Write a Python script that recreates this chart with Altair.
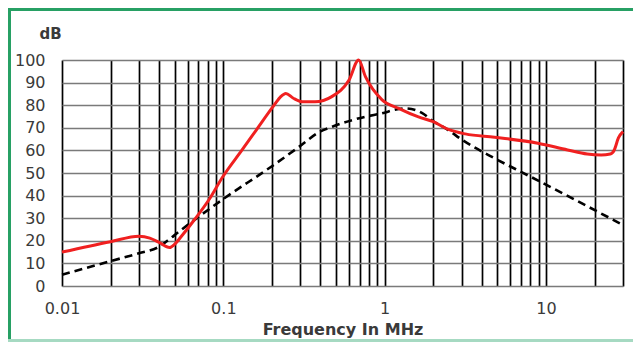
import altair as alt
import pandas as pd

# Red (solid) curve: frequency in MHz, level in dB
red_f = [0.01, 0.02, 0.03, 0.035, 0.04, 0.0464, 0.05, 0.055, 0.066, 0.082, 0.0985,
         0.13, 0.16, 0.2015, 0.225, 0.244, 0.27, 0.309, 0.37, 0.47, 0.6, 0.69, 0.76,
         0.96, 1.22, 1.62, 2.0, 2.48, 3.16, 4.8, 8.9, 13.6, 18.0, 22.0, 25.0, 26.5,
         28.1, 30.0]
red_db = [15.0, 19.6, 22.0, 21.2, 19.3, 17.0, 18.5, 22.0, 29.2, 38.5, 48.0,
          60.0, 69.0, 79.0, 83.5, 85.2, 83.2, 81.5, 81.5, 83.8, 91.0, 100.0, 92.6,
          82.5, 78.6, 74.8, 72.7, 69.3, 67.3, 65.8, 63.2, 60.2, 58.4, 58.0, 58.4, 60.2,
          65.5, 68.3]

# Black (dashed) curve
black_f = [0.01, 0.02, 0.03, 0.04, 0.045, 0.053, 0.1, 0.2, 0.3, 0.39,
           0.473, 0.76, 0.92, 1.34, 1.7, 2.0, 2.48, 3.0, 4.8, 7.7, 30.0]
black_db = [5.0, 11.0, 14.5, 17.4, 20.0, 24.0, 38.5, 53.0, 62.0, 68.0,
            70.5, 74.9, 76.1, 78.6, 76.6, 72.9, 69.0, 64.8, 56.5, 49.0, 27.0]

grid_x = [0.01, 0.02, 0.03, 0.04, 0.05, 0.06, 0.07, 0.08, 0.09,
          0.1, 0.2, 0.3, 0.4, 0.5, 0.6, 0.7, 0.8, 0.9,
          1, 2, 3, 4, 5, 6, 7, 8, 9, 10, 20, 30]
y_ticks = [0, 10, 20, 30, 40, 50, 60, 70, 80, 90, 100]

red_df = pd.DataFrame({"f": red_f, "db": red_db})
black_df = pd.DataFrame({"f": black_f, "db": black_db})

FONT = "DejaVu Sans"
TXT = "#3a3a3a"

x_enc = alt.X(
    "f:Q",
    scale=alt.Scale(type="log", domain=[0.0099999, 30.0001], nice=False),
    axis=alt.Axis(
        values=grid_x, format="~g",
        labelExpr="indexof(['0.01','0.1','1','10'], datum.label) >= 0 ? datum.label : ''",
        title="Frequency In MHz", titleFont=FONT, titleFontSize=16, titleFontWeight="bold",
        titleColor=TXT, titlePadding=5,
        labelFont=FONT, labelFontSize=16, labelColor=TXT, labelPadding=14,
        labelFlush=False, labelBound=False,
        ticks=False, domain=False, grid=True, gridColor="#000000", gridWidth=1.7,
        labelOverlap=False,
    ),
)
y_enc = alt.Y(
    "db:Q",
    scale=alt.Scale(domain=[0, 100], nice=False),
    axis=alt.Axis(
        values=y_ticks, tickCount=11, title="dB", titleAngle=0, titleAlign="center",
        titleBaseline="middle",
        titleX=-12, titleY=-27, titleFont=FONT, titleFontSize=15, titleFontWeight="bold",
        titleColor=TXT,
        labelFont=FONT, labelFontSize=16, labelColor=TXT, labelPadding=17,
        labelOverlap=False, labelFlush=False, labelBound=False,
        ticks=False, domain=False, grid=True, gridColor="#7a7a7a", gridWidth=1.5,
    ),
)

black = alt.Chart(black_df).mark_line(
    color="#000000", strokeWidth=2.6, strokeDash=[8, 5], interpolate="monotone"
).encode(x=x_enc, y=y_enc)
red = alt.Chart(red_df).mark_line(color="#f02020", strokeWidth=3, interpolate="monotone").encode(
    x=x_enc, y=y_enc
)

border_left = alt.Chart(red_df).mark_rule(color="#27a064", strokeWidth=3).encode(
    x=alt.value(-52.5), y=alt.value(-51), y2=alt.value(281)
)
border_top = alt.Chart(red_df).mark_rule(color="#27a064", strokeWidth=3).encode(
    x=alt.value(-54), x2=alt.value(571), y=alt.value(-50.5)
)
border_bottom = alt.Chart(red_df).mark_rule(color="#a6d9c2", strokeWidth=2).encode(
    x=alt.value(-54), x2=alt.value(571), y=alt.value(280.5)
)

chart = alt.layer(black, red, border_left, border_top, border_bottom).properties(
    width=561, height=226,
    autosize=alt.AutoSizeParams(type="none"),
    padding={"left": 54, "top": 52, "right": 10, "bottom": 62},
).configure_view(stroke=None).configure(background="white")

chart.save("out.html", embed_options={"renderer": "svg", "actions": False})
